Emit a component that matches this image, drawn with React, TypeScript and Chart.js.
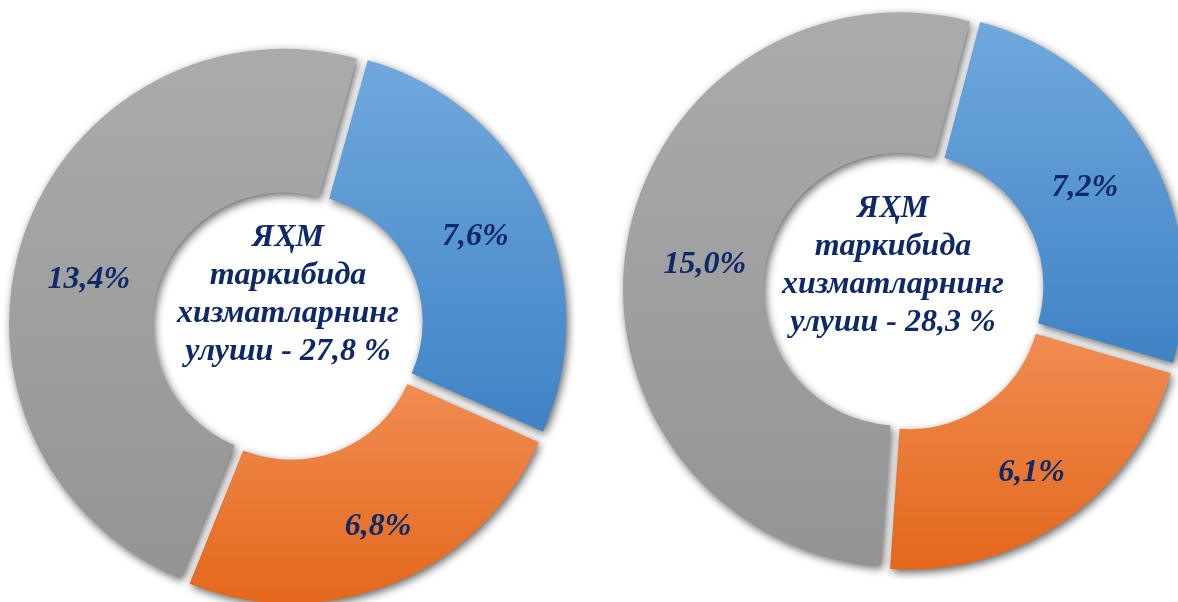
import React, { useEffect, useRef } from 'react';
import { Chart, registerables } from 'chart.js';

Chart.register(...registerables);

const categories = ['Сектор 1', 'Сектор 2', 'Сектор 3'];
const leftValues = [7.6, 6.8, 13.4];
const rightValues = [7.2, 6.1, 15.0];
const leftValueLabels = ['7,6%', '6,8%', '13,4%'];
const rightValueLabels = ['7,2%', '6,1%', '15,0%'];
const leftCenterLines = ['ЯҲМ', 'таркибида', 'хизматларнинг', 'улуши - 27,8 %'];
const rightCenterLines = ['ЯҲМ', 'таркибида', 'хизматларнинг', 'улуши - 28,3 %'];
const gradientTop = ['#70a8de', '#f18c52', '#ababab'];
const gradientBottom = ['#3f83c5', '#e3681b', '#949494'];

const TEXT_COLOR = '#0e2969';
const FONT = 'italic bold 32px "Liberation Serif", "Times New Roman", serif';

const decoPlugin: any = {
  id: 'donutDeco',
  beforeDatasetsDraw(chart: any) {
    const ctx = chart.ctx;
    const meta = chart.getDatasetMeta(0);
    meta.data.forEach((arc: any, i: number) => {
      const p = arc.getProps(['x', 'y', 'startAngle', 'endAngle', 'innerRadius', 'outerRadius'], true);
      let minY = Infinity;
      let maxY = -Infinity;
      const steps = 48;
      for (let k = 0; k <= steps; k++) {
        const a = p.startAngle + ((p.endAngle - p.startAngle) * k) / steps;
        for (const r of [p.innerRadius, p.outerRadius]) {
          const py = p.y + Math.sin(a) * r;
          if (py < minY) minY = py;
          if (py > maxY) maxY = py;
        }
      }
      const g = ctx.createLinearGradient(0, minY, 0, maxY);
      g.addColorStop(0, gradientTop[i]);
      g.addColorStop(1, gradientBottom[i]);
      arc.options.backgroundColor = g;
    });
    ctx.save();
    ctx.shadowColor = 'rgba(0,0,0,0.6)';
    ctx.shadowBlur = 8;
    ctx.shadowOffsetX = 2;
    ctx.shadowOffsetY = 3;
  },
  afterDatasetsDraw(chart: any, _args: any, opts: any) {
    const ctx = chart.ctx;
    ctx.restore();
    const meta = chart.getDatasetMeta(0);
    ctx.save();
    ctx.font = FONT;
    ctx.fillStyle = TEXT_COLOR;
    ctx.textAlign = 'center';
    ctx.textBaseline = 'middle';
    let cx = 0;
    let cy = 0;
    meta.data.forEach((arc: any, i: number) => {
      const p = arc.getProps(['x', 'y', 'startAngle', 'endAngle', 'innerRadius', 'outerRadius'], true);
      cx = p.x;
      cy = p.y;
      const off = (arc.options.offset || 0) / 4;
      const circ = p.endAngle - p.startAngle;
      const fix = 1 - Math.sin(Math.min(Math.PI, circ));
      const shift = off * (1 + fix);
      const mid = (p.startAngle + p.endAngle) / 2 + ((opts.angleNudge?.[i] || 0) * Math.PI) / 180;
      const rad = shift + (p.innerRadius + p.outerRadius) / 2 + (opts.labelNudge?.[i] || 0);
      ctx.fillText(opts.valueLabels[i], p.x + Math.cos(mid) * rad, p.y + Math.sin(mid) * rad);
    });
    const lines: string[] = opts.centerLines;
    const lh = 38;
    lines.forEach((line, i) => {
      ctx.fillText(line, cx + opts.centerDx, cy + opts.centerDy + (i - (lines.length - 1) / 2) * lh);
    });
    ctx.restore();
  },
};

type DonutProps = {
  values: number[];
  valueLabels: string[];
  centerLines: string[];
  rotation: number;
  cutout: string;
  offsets: number[];
  left: number;
  top: number;
  size: number;
  centerDx: number;
  centerDy: number;
  labelNudge: number[];
  angleNudge: number[];
};

function Donut(props: DonutProps) {
  const ref = useRef<HTMLCanvasElement | null>(null);
  useEffect(() => {
    if (!ref.current) return;
    const chart = new Chart(ref.current, {
      type: 'doughnut',
      data: {
        labels: categories,
        datasets: [
          {
            data: props.values,
            backgroundColor: gradientTop.slice(),
            borderWidth: 0,
            offset: props.offsets,
            hoverOffset: 0,
          } as any,
        ],
      },
      options: {
        responsive: false,
        animation: false,
        devicePixelRatio: 1,
        rotation: props.rotation,
        cutout: props.cutout,
        events: [],
        layout: { padding: 0 },
        plugins: {
          legend: { display: false },
          tooltip: { enabled: false },
          donutDeco: {
            valueLabels: props.valueLabels,
            centerLines: props.centerLines,
            centerDx: props.centerDx,
            centerDy: props.centerDy,
            labelNudge: props.labelNudge,
            angleNudge: props.angleNudge,
          },
        } as any,
      },
      plugins: [decoPlugin],
    });
    return () => chart.destroy();
  }, []);
  return (
    <canvas
      ref={ref}
      width={props.size}
      height={props.size}
      style={{ position: 'absolute', left: props.left, top: props.top, width: props.size, height: props.size }}
    />
  );
}

export default function App() {
  return (
    <div
      style={{
        position: 'fixed',
        left: 0,
        top: 0,
        width: 1178,
        height: 602,
        overflow: 'hidden',
        background: '#ffffff',
      }}
    >
      <Donut
        values={leftValues}
        valueLabels={leftValueLabels}
        centerLines={leftCenterLines}
        rotation={15.5}
        cutout="47%"
        offsets={[32, 32, 17]}
        left={1}
        top={38}
        size={574}
        centerDx={0}
        centerDy={-30}
        labelNudge={[0, 14, -3]}
        angleNudge={[0, -2, -6]}
      />
      <Donut
        values={rightValues}
        valueLabels={rightValueLabels}
        centerLines={rightCenterLines}
        rotation={14.7}
        cutout="48.5%"
        offsets={[32, 32, 16]}
        left={615}
        top={1}
        size={578}
        centerDx={-11}
        centerDy={-24}
        labelNudge={[-3, 12, -10]}
        angleNudge={[0, 0, -2.2]}
      />
    </div>
  );
}
